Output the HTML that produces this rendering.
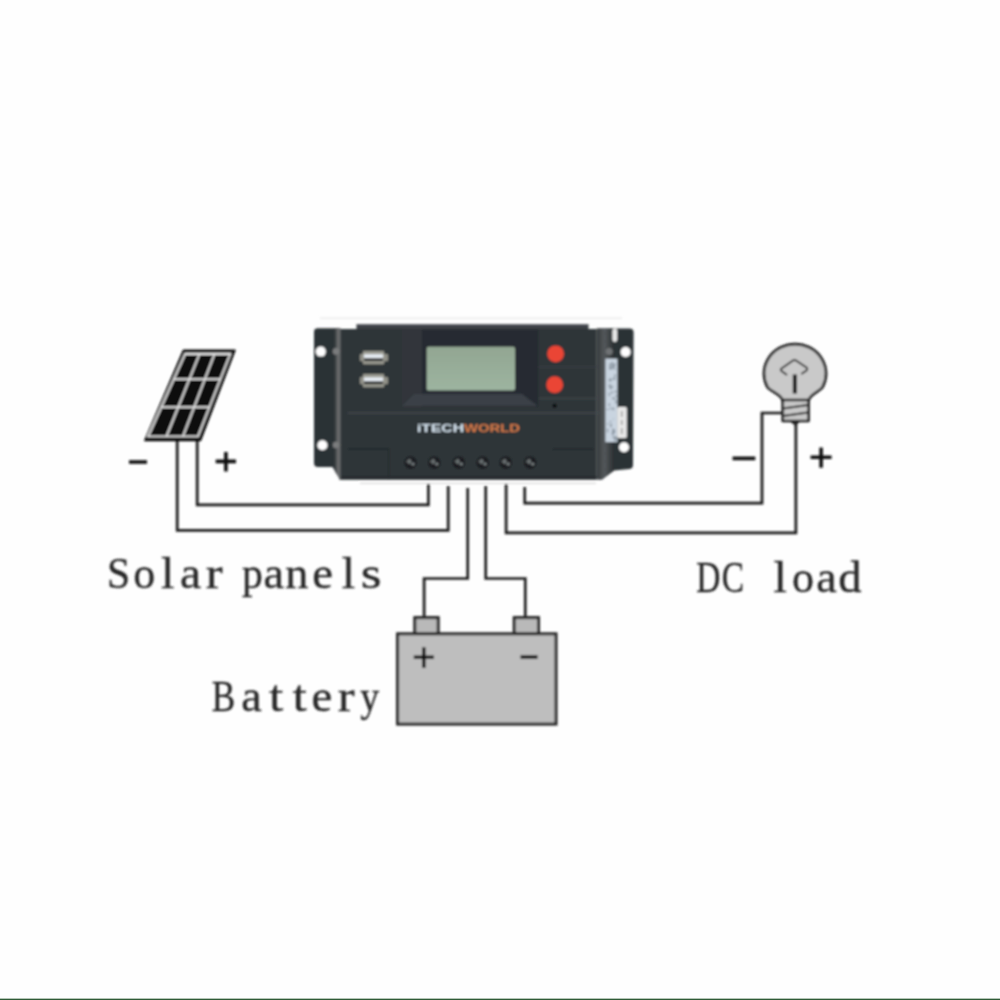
<!DOCTYPE html>
<html><head><meta charset="utf-8">
<style>
html,body{margin:0;padding:0;background:#fefefe;}
svg{display:block;}
.lbl{font-family:"Liberation Serif",serif;}
.logo{font-family:"Liberation Sans",sans-serif;font-weight:bold;}
</style></head>
<body>
<svg width="1000" height="1000" viewBox="0 0 1000 1000">
<defs>
<linearGradient id="lcd" x1="0" y1="0" x2="0" y2="1"><stop offset="0" stop-color="#92a692"/><stop offset="1" stop-color="#9db4a0"/></linearGradient>
<linearGradient id="sideL" x1="0" y1="0" x2="1" y2="0"><stop offset="0" stop-color="#3a3e41"/><stop offset="0.6" stop-color="#6e7071"/><stop offset="1" stop-color="#55585a"/></linearGradient>
<linearGradient id="sideR" x1="0" y1="0" x2="1" y2="0"><stop offset="0" stop-color="#33383b"/><stop offset="0.45" stop-color="#54585b"/><stop offset="1" stop-color="#2b2f32"/></linearGradient>
<filter id="blur2" x="-5%" y="-5%" width="110%" height="110%"><feGaussianBlur stdDeviation="0.5"/></filter>
<filter id="blur3" x="-5%" y="-5%" width="110%" height="110%"><feGaussianBlur stdDeviation="0.7"/></filter>
<filter id="blur" x="-5%" y="-5%" width="110%" height="110%"><feGaussianBlur stdDeviation="0.8"/></filter>
</defs>
<rect x="0" y="0" width="1000" height="1000" fill="#fefefe"/>
<rect x="0" y="998" width="1000" height="1" fill="#b4c4b6"/><rect x="0" y="999" width="1000" height="1" fill="#2f5b36"/>
<g filter="url(#blur)">

<!-- wires -->
<g fill="none" stroke="#1a1a1a" stroke-width="2.7" stroke-linejoin="miter">
  <polyline points="197.2,441 197.2,504.8 428.4,504.8 428.4,484"/>
  <polyline points="177.2,441 177.2,530.4 448.2,530.4 448.2,486"/>
  <polyline points="467.7,488 467.7,578.5 424.1,578.5 424.1,618"/>
  <polyline points="485.7,486 485.7,578.5 525.3,578.5 525.3,618"/>
  <polyline points="506.1,484 506.1,532.8 795.9,532.8 795.9,424"/>
  <polyline points="524.7,487 524.7,503.1 762,503.1 762,413 783,413"/>
</g>

<!-- solar panel -->
<g>
  <polygon points="183.4,350.2 235,350.2 200.5,440.5 144.8,440.5" fill="#111" stroke="#111" stroke-width="1.5" stroke-linejoin="round"/>
  <g stroke="#e6e6e6" fill="none" stroke-width="1.8">
    <polygon points="185.2,354 230.2,354 198,436.3 148.2,436.3"/>
    <path d="M173.9 379.2H220.3"/><path d="M161.3 407.2H209.4"/><path d="M199.5 354L166.5 436.3"/><path d="M214.5 354L183 436.3"/>
  </g>
</g>

<!-- controller -->
<g>
  <!-- top strip -->
  <rect x="356.5" y="324.4" width="232" height="5" fill="#3c4145"/>
  <rect x="356.5" y="324.4" width="232" height="1.2" fill="#50555a"/>
  <rect x="320" y="317.6" width="302" height="1" fill="#e2e2e2"/>
  <!-- flanges -->
  <path d="M314 332 Q314 328.3 317.7 328.3 H340 V479.5 L332.5 467 H318 Q314 467 314 463 Z" fill="#2c3236"/>
  <path d="M633.6 332.4 Q633.6 328.4 629.6 328.4 H598 V479.5 H602 L614 470.4 L629.6 469 Q633 468.5 633 465 Z" fill="#2c3236"/>
  <!-- main face -->
  <rect x="339.5" y="329" width="257" height="150.5" fill="#2d3437"/>
  <rect x="339.5" y="476" width="257" height="3.5" fill="#262c2f"/>
  <path d="M335 328.5 H340.8 V479.5 H340 L335 471.2 Z" fill="url(#sideL)"/>
  <path d="M596.4 328.5 H614 V470.4 L602 479.5 H596.4 Z" fill="url(#sideR)"/>
  <circle cx="336" cy="351.4" r="3.3" fill="#7a7c7d"/>
  <circle cx="336" cy="445" r="3.3" fill="#7a7c7d"/>
  <circle cx="609.2" cy="351.6" r="3.5" fill="#6f7274"/>
  <!-- lcd recess -->
  <rect x="401.4" y="329" width="21" height="78" fill="#30363a"/>
  <rect x="422.4" y="329" width="116" height="78" fill="#272c30"/>
  <polygon points="414,394 522,394 537.5,406 402,406" fill="#3a4147"/>
  <rect x="426.7" y="346.7" width="88.3" height="43.8" rx="2" fill="url(#lcd)"/>
  <!-- right button panel lines -->
  <rect x="538.6" y="366.4" width="60" height="1.2" fill="#3b4246"/>
  <rect x="538.6" y="397.8" width="60" height="1.2" fill="#40464b"/>
  <!-- horizontal divider -->
  <rect x="347.8" y="412.2" width="252" height="1.6" fill="#444a50"/>
  <!-- lower boxes -->
  <rect x="348.2" y="448.4" width="40.6" height="1.2" fill="#202427"/>
  <rect x="388.3" y="448.4" width="1" height="31" fill="#262a2d"/>
  <rect x="552.6" y="448.6" width="40.6" height="1.2" fill="#202427"/>
  <!-- holes -->
  <circle cx="320.8" cy="351.6" r="5" fill="#fff"/>
  <circle cx="322.4" cy="445.2" r="5" fill="#fff"/>
  <circle cx="625.6" cy="352" r="5" fill="#fff"/>
  <circle cx="624" cy="447.2" r="5" fill="#fff"/>
  <!-- side labels -->
  <rect x="612.4" y="328.8" width="4.8" height="13.2" rx="2.4" fill="#e8e8e8"/>
  <rect x="605.4" y="358.6" width="12" height="83.5" fill="#c9d4e0"/>
  <g><rect x="608.6" y="403.4" width="1.5" height="2.6" fill="#8e99a4"/><rect x="612.1" y="366.1" width="0.8" height="3.3" fill="#8e99a4"/><rect x="608.8" y="379.3" width="2.8" height="2.2" fill="#8e99a4"/><rect x="614.0" y="398.2" width="2.1" height="1.3" fill="#8e99a4"/><rect x="612.2" y="428.7" width="1.8" height="3.0" fill="#8e99a4"/><rect x="612.5" y="366.0" width="2.3" height="2.6" fill="#8e99a4"/><rect x="609.2" y="363.4" width="2.5" height="2.2" fill="#8e99a4"/><rect x="613.0" y="429.5" width="2.2" height="3.6" fill="#8e99a4"/><rect x="610.1" y="423.5" width="1.7" height="3.6" fill="#8e99a4"/><rect x="614.4" y="368.6" width="1.1" height="1.5" fill="#8e99a4"/><rect x="615.2" y="395.0" width="2.1" height="1.7" fill="#8e99a4"/><rect x="611.1" y="391.1" width="1.5" height="2.6" fill="#8e99a4"/><rect x="611.8" y="431.5" width="2.2" height="3.6" fill="#8e99a4"/><rect x="614.2" y="438.3" width="2.1" height="1.3" fill="#8e99a4"/><rect x="614.2" y="436.2" width="2.6" height="2.5" fill="#8e99a4"/><rect x="612.9" y="377.5" width="2.5" height="2.5" fill="#8e99a4"/><rect x="609.1" y="365.9" width="2.5" height="3.8" fill="#8e99a4"/><rect x="607.3" y="423.4" width="1.6" height="1.3" fill="#8e99a4"/><rect x="609.1" y="421.0" width="2.5" height="0.9" fill="#8e99a4"/><rect x="612.0" y="364.5" width="2.2" height="1.8" fill="#8e99a4"/><rect x="614.4" y="437.5" width="1.8" height="3.8" fill="#8e99a4"/><rect x="609.3" y="367.0" width="2.0" height="0.9" fill="#8e99a4"/><rect x="608.3" y="392.8" width="2.0" height="1.3" fill="#8e99a4"/><rect x="606.9" y="428.7" width="1.4" height="3.7" fill="#8e99a4"/><rect x="614.6" y="390.5" width="1.7" height="2.4" fill="#8e99a4"/><rect x="612.3" y="407.5" width="1.9" height="2.7" fill="#8e99a4"/><rect x="615.0" y="400.5" width="1.7" height="3.0" fill="#8e99a4"/><rect x="608.6" y="384.5" width="2.8" height="2.4" fill="#8e99a4"/><rect x="611.4" y="361.9" width="1.6" height="2.5" fill="#8e99a4"/><rect x="606.7" y="409.0" width="2.1" height="1.0" fill="#8e99a4"/><rect x="612.1" y="397.4" width="2.2" height="1.9" fill="#8e99a4"/><rect x="612.9" y="418.6" width="0.8" height="1.0" fill="#8e99a4"/><rect x="612.6" y="436.1" width="1.3" height="2.2" fill="#8e99a4"/><rect x="611.8" y="386.0" width="1.5" height="1.7" fill="#8e99a4"/><rect x="609.8" y="407.5" width="1.4" height="1.9" fill="#8e99a4"/><rect x="613.5" y="363.1" width="1.9" height="3.0" fill="#8e99a4"/><rect x="609.3" y="378.4" width="2.4" height="1.5" fill="#8e99a4"/><rect x="608.2" y="394.9" width="2.2" height="1.1" fill="#8e99a4"/><rect x="609.4" y="387.0" width="2.5" height="2.1" fill="#8e99a4"/><rect x="614.2" y="374.2" width="1.5" height="2.8" fill="#8e99a4"/></g>
  <rect x="617.2" y="407" width="9.6" height="31" rx="1.5" fill="#e8e8e8"/>
  <path d="M621.8 411 v6 M621.8 420 v5 M621.8 428 v6" stroke="#777" stroke-width="1"/>
  <!-- buttons -->
  <circle cx="555.6" cy="353.8" r="8.4" fill="#ea4536"/>
  <circle cx="554.7" cy="384.7" r="8.4" fill="#ea4536"/>
  <circle cx="554.6" cy="405.8" r="2" fill="#050505"/>
  <!-- USB -->
  <g id="usb">
    <rect x="359.9" y="354" width="28.1" height="7.2" rx="1" fill="#8f8f86"/>
    <rect x="362.9" y="351" width="21.2" height="13.2" rx="1" fill="#9a9a90"/>
    <rect x="364" y="354.3" width="19" height="3.6" fill="#e8eef5"/>
    <rect x="364" y="358.3" width="19" height="2.8" fill="#2a2e30"/>
  </g>
  <use href="#usb" y="23.1"/>
  <!-- logo -->
  <text class="logo" x="417" y="432.3" font-size="11" fill="#d4e2ee" textLength="47" lengthAdjust="spacingAndGlyphs">iTECH</text>
  <text class="logo" x="464" y="432.3" font-size="11" fill="#d67a48" textLength="56" lengthAdjust="spacingAndGlyphs">WORLD</text>
  <!-- screws -->
  <g id="scr">
    <circle cx="410.5" cy="462.6" r="6.3" fill="#1c1f21"/>
    <path d="M406.5 461.5 h5 M409.5 459 v5" stroke="#6d7375" stroke-width="2"/>
    <circle cx="413" cy="464" r="1.6" fill="#7c8385"/>
  </g>
  <use href="#scr" x="23.8"/><use href="#scr" x="48.3"/><use href="#scr" x="72.1"/><use href="#scr" x="95.2"/><use href="#scr" x="119.7"/>
  <rect x="360" y="482.8" width="236" height="1" fill="#d0d0d0"/>
</g>

<!-- bulb -->
<g stroke="#1e1e1e" stroke-width="2.7" stroke-linejoin="round">
  <path d="M782.75 401 C782.75 395 771 392 767.4 387 A31 29.5 0 1 1 822.6 387 C819 392 808.5 395 808.5 401 Z" fill="#c9c9c9"/>
  <rect x="782.75" y="400" width="25.75" height="21" fill="#c9c9c9"/>
  <path d="M783 408.5 L808 405 M783 416 L808 412.5" stroke-width="2"/>
  <path d="M787 375 L781.5 371 Q780 369.5 781.5 368.5 L793 360.5 Q794.5 359.5 796 360.5 L806.5 367.5 Q808 369 806.5 370.5 L801.3 374" fill="none" stroke-width="1.8"/>
  <path d="M794.9 374.5 V393.5" stroke-width="4.2" stroke="#111"/>
  <path d="M790 421.5 H800 L795.5 426 Z" fill="#222" stroke="none"/>
</g>
<!-- battery -->
<g stroke="#262626" stroke-width="3">
  <rect x="414.8" y="617.6" width="23.4" height="16.2" fill="#b9b9b9"/>
  <rect x="514.2" y="617.6" width="24.3" height="16.2" fill="#b9b9b9"/>
  <rect x="397.6" y="633.8" width="158.4" height="90.3" fill="#bebebe"/>
</g>

<!-- signs -->
<g stroke="#111" stroke-width="3.6" fill="none">
  <path d="M129 462H147"/>
  <path d="M215.7 461.4H236M225.9 451.9V471.5"/>
  <path d="M732.5 458.4H755.3"/>
  <path d="M810.6 457.3H831.6M821.1 447.5V467.8"/>
  <path d="M413.8 657.2H434M423.8 647.3V668"/>
  <path d="M520.5 657H537.6"/>
</g>


</g>
<!-- labels -->
<g class="lbl" font-size="44" fill="#262626" stroke="#262626" stroke-width="0.3" text-anchor="middle" filter="url(#blur)">
<text transform="translate(118.7 587.5) scale(0.947 1)">S</text>
<text transform="translate(144.2 587.5) scale(1.0 1)">o</text>
<text transform="translate(167.6 587.5) scale(1.100 1)">l</text>
<text transform="translate(190.6 587.5) scale(1.08 1)">a</text>
<text transform="translate(214.1 587.5) scale(1.150 1)">r</text>
<text transform="translate(252.5 587.5) scale(0.947 1)">p</text>
<text transform="translate(273.8 587.5) scale(1.05 1)">a</text>
<text transform="translate(296.8 587.5) scale(1.050 1)">n</text>
<text transform="translate(322.6 587.5) scale(1.062 1)">e</text>
<text transform="translate(348.5 587.5) scale(1.100 1)">l</text>
<text transform="translate(371.1 587.5) scale(1.214 1)">s</text>
<text transform="translate(223.5 710.5) scale(0.80 1)">B</text>
<text transform="translate(251.5 710.5) scale(1.05 1)">a</text>
<text transform="translate(276.1 710.5) scale(1.167 1)">t</text>
<text transform="translate(299.6 710.5) scale(1.167 1)">t</text>
<text transform="translate(321.8 710.5) scale(1.062 1)">e</text>
<text transform="translate(346.1 710.5) scale(1.150 1)">r</text>
<text transform="translate(369.8 710.5) scale(0.86 1)">y</text>
<text transform="translate(708.3 592.3) scale(0.76 1)">D</text>
<text transform="translate(732.9 592.3) scale(0.760 1)">C</text>
<text transform="translate(780.1 592.3) scale(1.100 1)">l</text>
<text transform="translate(803.0 592.3) scale(1.0 1)">o</text>
<text transform="translate(826.5 592.3) scale(1.05 1)">a</text>
<text transform="translate(849.8 592.3) scale(1.06 1)">d</text>
</g>
</svg>
</body></html>
